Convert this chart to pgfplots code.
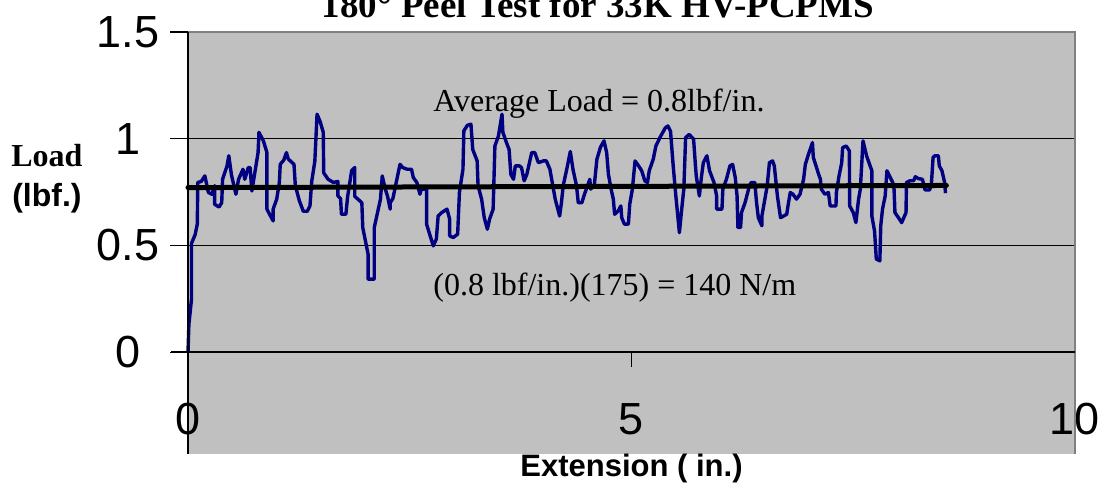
\documentclass[border=0pt]{standalone}
\usepackage{pgfplots}
\pgfplotsset{compat=1.18}
\usepackage{fontspec}
\setmainfont{Liberation Sans}
\newfontfamily\timesf{Liberation Serif}
\definecolor{plotgray}{HTML}{C0C0C0}
\definecolor{bordergray}{HTML}{808080}
\definecolor{navyline}{HTML}{000080}

\begin{document}
\begin{tikzpicture}
\begin{axis}[
    at={(94pt,16.5pt)}, anchor=south west,
    scale only axis, width=443.5pt, height=211pt,
    xmin=0, xmax=10, ymin=-0.477, ymax=1.5,
    xtick={0,5,10}, ytick={0,0.5,1,1.5},
    axis line style={draw=none},
    axis background/.style={fill=plotgray},
    ymajorgrids, grid style={black, line width=0.6pt},
    tick align=outside, ytick pos=left, major tick length=9pt,
    xtick style={draw=none},
    ytick style={black, line width=0.6pt},
    tick label style={font=\fontsize{22.5}{22.5}\selectfont},
    /pgf/number format/assume math mode=true,
    yticklabel style={anchor=center, xshift=-21pt},
    xticklabel style={anchor=center, yshift=26.5pt},
    xlabel={\textbf{Extension ( in.)}},
    xlabel style={at={(axis description cs:0.5,-0.034)}, anchor=center,
        font=\fontsize{15.5}{15.5}\selectfont},
    ylabel={{\timesf\bfseries Load}\\\textbf{(lbf.)}},
    ylabel style={rotate=-90, at={(axis description cs:-0.159,0.652)},
        anchor=center, align=center, font=\fontsize{16}{20}\selectfont},
    clip=false,
]
% peel load trace
\addplot[navyline, line width=1.7pt, line join=round] coordinates {
(0,0) (0.01,0.13) (0.04,0.25) (0.04,0.51) (0.08,0.55) (0.105,0.60)
(0.11,0.795) (0.15,0.80) (0.19,0.826) (0.23,0.748) (0.27,0.74) (0.30,0.78)
(0.30,0.693) (0.35,0.68) (0.38,0.70) (0.39,0.81) (0.44,0.873) (0.46,0.92)
(0.49,0.83) (0.54,0.74) (0.57,0.81) (0.62,0.857) (0.64,0.81) (0.68,0.865)
(0.70,0.865) (0.72,0.755) (0.79,0.935) (0.80,1.03) (0.85,0.99) (0.89,0.935)
(0.89,0.67) (0.92,0.646) (0.96,0.615) (0.96,0.67) (1.00,0.717) (1.03,0.795)
(1.04,0.88) (1.08,0.90) (1.11,0.935) (1.13,0.905) (1.195,0.88) (1.21,0.78)
(1.255,0.71) (1.30,0.66) (1.345,0.66) (1.375,0.685) (1.395,0.80) (1.43,0.895)
(1.455,1.115) (1.49,1.08) (1.525,1.03) (1.53,0.84) (1.58,0.81) (1.64,0.795)
(1.69,0.80) (1.69,0.732) (1.72,0.72) (1.73,0.646) (1.78,0.646) (1.80,0.73)
(1.83,0.81) (1.845,0.85) (1.88,0.865) (1.88,0.73) (1.96,0.70) (1.97,0.584)
(2.03,0.46) (2.03,0.342) (2.10,0.342) (2.10,0.584) (2.17,0.717) (2.19,0.826)
(2.22,0.77) (2.25,0.73) (2.28,0.67) (2.28,0.70) (2.31,0.72) (2.35,0.80)
(2.39,0.88) (2.42,0.865) (2.47,0.857) (2.52,0.857) (2.54,0.818) (2.58,0.795)
(2.615,0.74) (2.63,0.764) (2.69,0.764) (2.69,0.60) (2.73,0.545) (2.765,0.498)
(2.80,0.53) (2.82,0.638) (2.86,0.654) (2.92,0.67) (2.95,0.623) (2.95,0.545)
(2.99,0.537) (3.04,0.553) (3.06,0.748) (3.10,0.857) (3.11,1.037) (3.15,1.063)
(3.19,1.068) (3.21,0.95) (3.26,0.896) (3.27,0.78) (3.31,0.717) (3.34,0.63)
(3.375,0.576) (3.40,0.623) (3.44,0.67) (3.46,0.966) (3.50,1.013) (3.54,1.115)
(3.55,1.03) (3.59,0.982) (3.62,0.95) (3.64,0.833) (3.67,0.81) (3.69,0.873)
(3.735,0.873) (3.76,0.865) (3.79,0.803) (3.82,0.833) (3.875,0.935) (3.91,0.935)
(3.95,0.888) (4.006,0.896) (4.04,0.896) (4.08,0.857) (4.14,0.717) (4.19,0.638)
(4.21,0.70) (4.23,0.78) (4.27,0.857) (4.31,0.94) (4.34,0.857) (4.38,0.78)
(4.40,0.70) (4.44,0.70) (4.47,0.74) (4.53,0.81) (4.54,0.764) (4.58,0.78)
(4.61,0.904) (4.65,0.96) (4.69,0.99) (4.72,0.935) (4.74,0.833) (4.77,0.764)
(4.795,0.717) (4.81,0.646) (4.85,0.662) (4.88,0.685) (4.89,0.63) (4.92,0.60)
(4.965,0.60) (4.98,0.693) (5.01,0.764) (5.04,0.896) (5.08,0.873) (5.115,0.85)
(5.15,0.803) (5.18,0.795) (5.20,0.85) (5.245,0.904) (5.275,0.966) (5.32,1.005)
(5.38,1.05) (5.41,1.06) (5.44,1.035) (5.47,0.873) (5.50,0.732) (5.54,0.56)
(5.566,0.67) (5.59,0.764) (5.61,1.005) (5.65,1.02) (5.70,0.998) (5.72,0.88)
(5.73,0.826) (5.765,0.732) (5.79,0.826) (5.81,0.888) (5.85,0.92) (5.88,0.85)
(5.93,0.795) (5.96,0.732) (5.96,0.67) (6.02,0.67) (6.03,0.764) (6.07,0.81)
(6.11,0.873) (6.14,0.88) (6.17,0.818) (6.19,0.732) (6.20,0.584) (6.23,0.584)
(6.24,0.654) (6.28,0.70) (6.33,0.78) (6.35,0.795) (6.39,0.795) (6.41,0.70)
(6.43,0.63) (6.47,0.592) (6.47,0.638) (6.51,0.732) (6.53,0.78) (6.555,0.888)
(6.59,0.896) (6.61,0.873) (6.645,0.732) (6.68,0.63) (6.75,0.646) (6.77,0.70)
(6.79,0.748) (6.82,0.74) (6.86,0.717) (6.90,0.74) (6.94,0.81) (6.96,0.88)
(6.99,0.92) (7.04,0.982) (7.05,0.912) (7.08,0.873) (7.11,0.833) (7.13,0.81)
(7.14,0.764) (7.18,0.74) (7.22,0.748) (7.24,0.685) (7.305,0.685) (7.31,0.748)
(7.34,0.826) (7.37,0.888) (7.38,0.958) (7.42,0.966) (7.456,0.943) (7.46,0.685)
(7.50,0.654) (7.53,0.607) (7.56,0.717) (7.58,0.764) (7.61,0.99) (7.65,0.92)
(7.69,0.873) (7.71,0.85) (7.71,0.638) (7.74,0.568) (7.76,0.436) (7.80,0.428)
(7.81,0.592) (7.83,0.67) (7.86,0.732) (7.88,0.85) (7.90,0.833) (7.945,0.795)
(7.96,0.764) (7.97,0.654) (8.01,0.63) (8.046,0.607) (8.095,0.654) (8.10,0.795)
(8.14,0.803) (8.18,0.803) (8.20,0.822) (8.235,0.813) (8.28,0.81) (8.31,0.76)
(8.36,0.76) (8.38,0.78) (8.40,0.912) (8.42,0.92) (8.46,0.92) (8.47,0.873)
(8.50,0.85) (8.53,0.795) (8.54,0.745)
};
% average (trend) line
\addplot[black, line width=2.5pt, line cap=round] coordinates {(0,0.771) (8.55,0.781)};

% plot area frame and x axis at y=0
\draw[bordergray, line width=1.2pt] (axis cs:0,1.5) -- (axis cs:10,1.5) -- (axis cs:10,-0.477);
\draw[black, line width=0.8pt] (axis cs:0,1.5) -- (axis cs:0,-0.477);
\draw[black, line width=1pt] (axis cs:-0.19,0) -- (axis cs:10,0);
\draw[black, line width=0.8pt] (axis cs:5,0) -- (axis cs:5,-0.07);

\node[anchor=base west, inner sep=0pt, font=\timesf\fontsize{16}{16}\selectfont]
    at (axis cs:2.762,1.128) {Average Load = 0.8lbf/in.};
\node[anchor=base west, inner sep=0pt, font=\timesf\fontsize{16}{16}\selectfont]
    at (axis cs:2.762,0.267) {(0.8 lbf/in.)(175) = 140 N/m};
\node[anchor=base, inner sep=0pt, font=\timesf\bfseries\fontsize{18.5}{18.5}\selectfont]
    at (axis description cs:0.462,1.0355) {180° Peel Test for 33K HV-PCPMS};
\end{axis}
\pgfresetboundingbox
\path[use as bounding box] (0,0) rectangle (552.5pt,243.5pt);
\end{tikzpicture}
\end{document}
